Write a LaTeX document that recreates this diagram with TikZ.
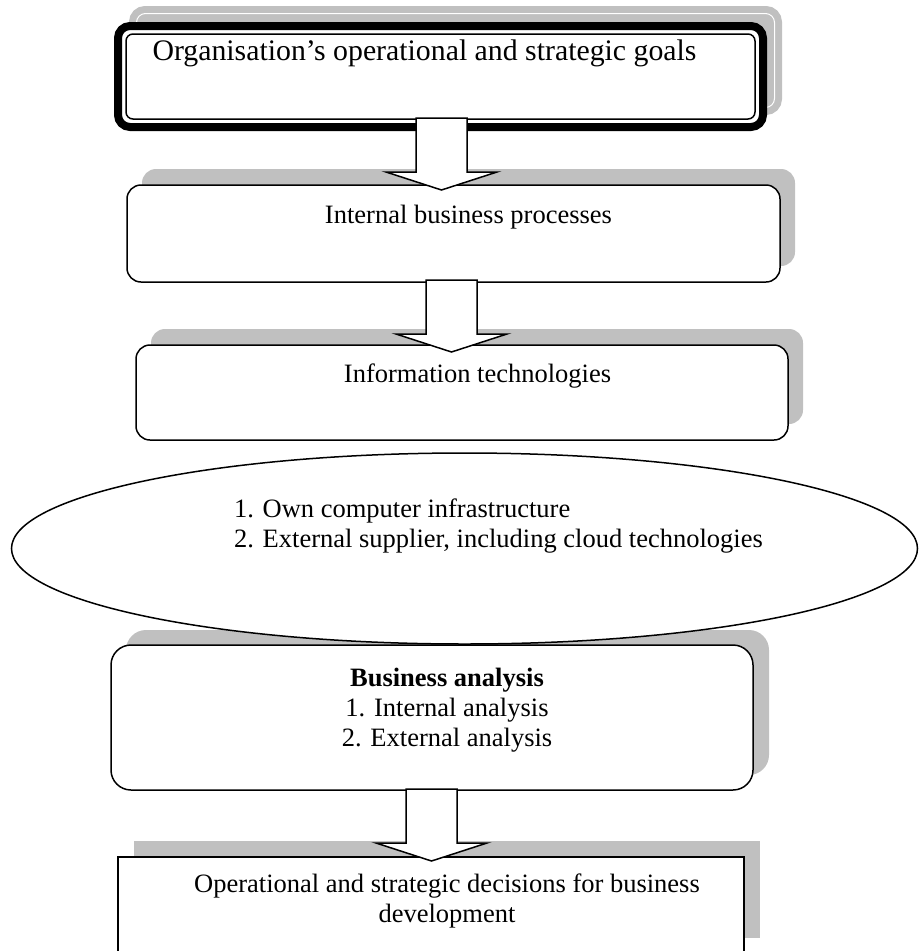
\documentclass[tikz,border=0pt]{standalone}
\usepackage{fontspec}
\setmainfont{Liberation Serif}
\usetikzlibrary{calc,shapes.geometric}
\definecolor{shadowgray}{RGB}{192,192,192}
\pgfdeclarelayer{shadowlayer}
\pgfsetlayers{shadowlayer,main}

% block arrow from a top-centre coordinate down to a tip coordinate
\newcommand{\flowarrow}[2]{%
  \draw[blockarrow] let \p1=(#1), \p2=(#2) in
    (\x1-25.5pt,\y1) -- (\x1-25.5pt,\y2+18pt) -- (\x1-55.5pt,\y2+18pt)
    -- (\x2,\y2) -- (\x1+55.5pt,\y2+18pt) -- (\x1+25.5pt,\y2+18pt)
    -- (\x1+25.5pt,\y1) -- cycle;}

\begin{document}
\begin{tikzpicture}[x=1pt,y=-1pt,
  every node/.style={inner sep=0pt, outer sep=0pt},
  txt/.style={font=\fontsize{26.5}{30.5}\selectfont, anchor=base},
  roundbox/.style={draw, fill=white, line width=1.5pt, rounded corners=#1},
  squarebox/.style={draw, fill=white, line width=2pt},
  goalbox/.style={draw, fill=white, line width=8pt, rounded corners=12pt},
  ovalbox/.style={ellipse, draw, fill=white, line width=1.5pt},
  blockarrow/.style={draw, fill=white, line width=1.5pt, line join=miter},
  shadowfill/.style={fill=shadowgray}
]
\useasboundingbox (0,0) rectangle (919,951);

% boxes
\node[goalbox, minimum width=645pt, minimum height=101pt] (goals) at (440.5,76.5) {};
\draw[line width=1.5pt, rounded corners=7pt]
  ($(goals.south west)+(8,-8)$) rectangle ($(goals.north east)+(-8,8)$);
\node[roundbox=14pt, minimum width=653pt, minimum height=97pt] (ibp) at (453.5,233.5) {};
\node[roundbox=14pt, minimum width=652pt, minimum height=95pt] (it) at (462,392.5) {};
\node[ovalbox, minimum width=906pt, minimum height=191pt] (infra) at (464.5,548.5) {};
\node[roundbox=20pt, minimum width=642pt, minimum height=145pt] (ba) at (432,717.5) {};
\node[squarebox, minimum width=626pt, minimum height=97pt] (dec) at (431,905.5) {};

% shadows, offset up and to the right
\begin{pgfonlayer}{shadowlayer}
  \draw[shadowfill, draw=shadowgray, line width=8pt, rounded corners=12pt]
    ($(goals.south west)+(15,-16)$) rectangle ($(goals.north east)+(15,-16)$);
  \draw[white, line width=1pt, rounded corners=9pt]
    ($(goals.south west)+(18.5,-19.5)$) rectangle ($(goals.north east)+(11.5,-12.5)$);
  \fill[shadowfill, rounded corners=14pt]
    ($(ibp.south west)+(15,-16)$) rectangle ($(ibp.north east)+(15,-16)$);
  \fill[shadowfill, rounded corners=14pt]
    ($(it.south west)+(15,-16)$) rectangle ($(it.north east)+(15,-16)$);
  \fill[shadowfill, rounded corners=20pt]
    ($(ba.south west)+(15,-15)$) rectangle ($(ba.north east)+(16,-15)$);
  \fill[shadowfill]
    ($(dec.south west)+(16,-16)$) rectangle ($(dec.north east)+(16,-16)$);
\end{pgfonlayer}

% texts
\node[txt, font=\fontsize{29.8}{34}\selectfont] (goalstext) at (424.5,60)
  {Organisation’s operational and strategic goals};
\node[txt] (ibptext) at (468.5,223) {Internal business processes};
\node[txt] (ittext) at (477.5,382) {Information technologies};
\node[txt, anchor=base west] (infraone) at (234,517) {1. Own computer infrastructure};
\node[txt, anchor=base west] (infratwo) at (234,547) {2. External supplier, including cloud technologies};
\node[txt, font=\fontsize{26.5}{30.5}\selectfont\bfseries] (batitle) at (447,686) {Business analysis};
\node[txt] (baone) at (447,716) {1. Internal analysis};
\node[txt] (batwo) at (447,746) {2. External analysis};
\node[txt] (decone) at (447,892) {Operational and strategic decisions for business};
\node[txt] (dectwo) at (447,922) {development};

% block arrows between the boxes
\coordinate (a1s) at (441.5,118); \coordinate (a1t) at (441.5,190);
\coordinate (a2s) at (451.5,280); \coordinate (a2t) at (451.5,352);
\coordinate (a3s) at (431.5,789); \coordinate (a3t) at (431.5,861);
\flowarrow{a1s}{a1t}
\flowarrow{a2s}{a2t}
\flowarrow{a3s}{a3t}
\end{tikzpicture}
\end{document}
